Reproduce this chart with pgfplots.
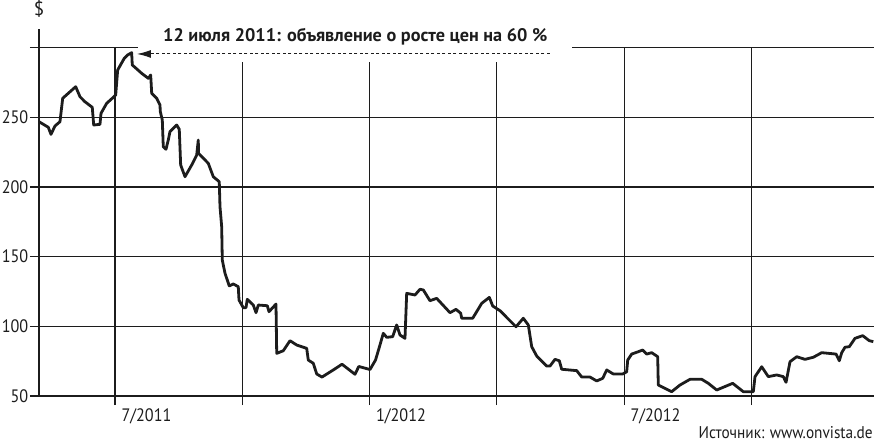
\documentclass[border=0pt]{standalone}
\usepackage{fontspec}
\setmainfont{PT Sans}
\newfontfamily\narrow{PT Sans}[FakeStretch=0.9]
\usepackage{pgfplots}
\pgfplotsset{compat=1.18}
\usetikzlibrary{arrows.meta}
\definecolor{ink}{HTML}{1C1C1C}

% price in $, x = month of year counted from Jan 2011 (6 = 1 July 2011)
\pgfplotstableread{
x y
4.208 246.9
4.427 242.9
4.491 237.8
4.585 243.8
4.703 246.9
4.767 263.7
5.073 272.0
5.175 264.8
5.292 261.2
5.464 257.2
5.498 244.5
5.646 245.0
5.670 252.9
5.804 260.1
5.936 263.7
6.016 266.0
6.063 284.0
6.219 292.4
6.299 294.8
6.393 296.4
6.407 287.6
6.629 281.6
6.785 278.0
6.841 280.4
6.865 267.3
6.983 263.7
7.060 258.9
7.068 254.1
7.115 248.1
7.138 228.9
7.202 227.1
7.256 233.7
7.296 239.7
7.454 244.5
7.515 241.4
7.548 215.8
7.650 207.4
7.808 215.8
7.926 223.0
7.963 233.7
7.970 224.2
8.199 217.0
8.317 207.4
8.458 203.8
8.475 185.9
8.515 171.5
8.529 147.6
8.593 138.1
8.694 129.0
8.788 130.4
8.906 128.5
8.923 118.9
9.024 113.4
9.088 113.4
9.118 119.4
9.260 115.3
9.324 109.8
9.378 115.3
9.590 114.8
9.630 110.5
9.795 116.0
9.812 80.6
9.967 82.5
10.125 89.7
10.283 86.6
10.519 84.2
10.556 75.8
10.674 73.5
10.755 65.8
10.879 63.6
11.146 68.7
11.351 72.8
11.657 65.6
11.747 71.2
12.011 69.0
12.141 75.8
12.223 84.2
12.325 95.0
12.405 92.1
12.546 92.6
12.640 101.0
12.718 93.8
12.836 91.4
12.876 123.7
13.072 122.5
13.190 126.6
13.268 126.1
13.425 118.4
13.583 120.1
13.897 109.8
14.038 112.2
14.149 109.4
14.173 105.8
14.432 105.8
14.644 116.5
14.824 120.8
14.904 114.6
15.076 111.2
15.453 99.7
15.625 105.8
15.743 101.0
15.823 85.4
15.941 78.7
16.176 71.5
16.254 71.5
16.372 76.3
16.474 75.3
16.530 69.2
16.884 68.2
17.002 63.6
17.197 63.6
17.355 60.8
17.497 62.7
17.591 68.7
17.746 65.8
17.968 65.8
18.062 67.4
18.086 75.8
18.180 80.1
18.336 81.8
18.439 83.0
18.534 80.1
18.652 81.1
18.793 78.2
18.807 57.9
19.123 53.1
19.319 57.9
19.555 62.0
19.830 62.0
19.986 59.1
20.184 54.3
20.561 59.1
20.811 53.1
21.047 53.1
21.087 63.9
21.245 71.0
21.400 63.9
21.598 65.1
21.754 63.9
21.818 59.8
21.912 74.6
22.070 78.2
22.266 76.3
22.462 77.8
22.659 81.1
22.997 80.1
23.074 75.3
23.131 81.1
23.208 85.0
23.310 85.4
23.444 91.4
23.626 93.3
23.781 89.7
23.876 89.0
}\price

\begin{document}
\begin{tikzpicture}
\begin{axis}[
  width=835pt, height=348.3pt, scale only axis,
  xmin=4.208, xmax=23.892, ymin=50, ymax=300,
  axis lines=left, axis line style={-, line width=1.1pt, ink},
  clip=false,
  xtick={6,9,12,15,18,21},
  xticklabels={7/2011,,1/2012,,7/2012,},
  ytick={50,100,...,300},
  yticklabels={50,100,150,200,250,},
  grid=major,
  grid style={line width=1.1pt, ink},
  tick align=outside,
  major tick length=9pt,
  tick style={line width=1.1pt, ink},
  tick label style={font=\narrow\fontsize{18}{20}\selectfont, text=ink},
  xticklabel style={anchor=north west, xshift=3pt},
  yticklabel style={anchor=east, inner sep=1.5pt},
]
\coordinate (bbsw) at (axis cs:3.289,16.98);
\coordinate (bbne) at (axis cs:23.892,334.24);
% gap in the grid behind the note
\fill[white] (axis cs:6.542,289.7) rectangle (axis cs:16.773,330);
\draw[ink, line width=1.1pt] (axis cs:4.208,300) -- (axis cs:4.208,313.4);
\node[ink, inner sep=0pt] at (axis cs:4.208,327.8) {\fontsize{19}{20}\selectfont\$};
\draw[ink, line width=1pt, dash pattern=on 3pt off 2.5pt, -{Latex[length=14pt,width=8pt]}]
  (axis cs:16.254,295.5) -- (axis cs:6.518,295.5);
\node[ink, anchor=base west, inner sep=0pt, font=\fontsize{18.2}{20}\selectfont\bfseries]
  at (axis cs:7.131,304.8) {12 июля 2011: объявление о росте цен на 60~\%};
\addplot[ink, line width=2.8pt, line join=round] table {\price};
\node[ink, anchor=base east, inner sep=0pt, font=\narrow\fontsize{17}{20}\selectfont]
  at (axis cs:23.862,19.6) {Источник: www.onvista.de};
\end{axis}
\pgfresetboundingbox
\path[use as bounding box] (bbsw) rectangle (bbne);
\end{tikzpicture}
\end{document}
